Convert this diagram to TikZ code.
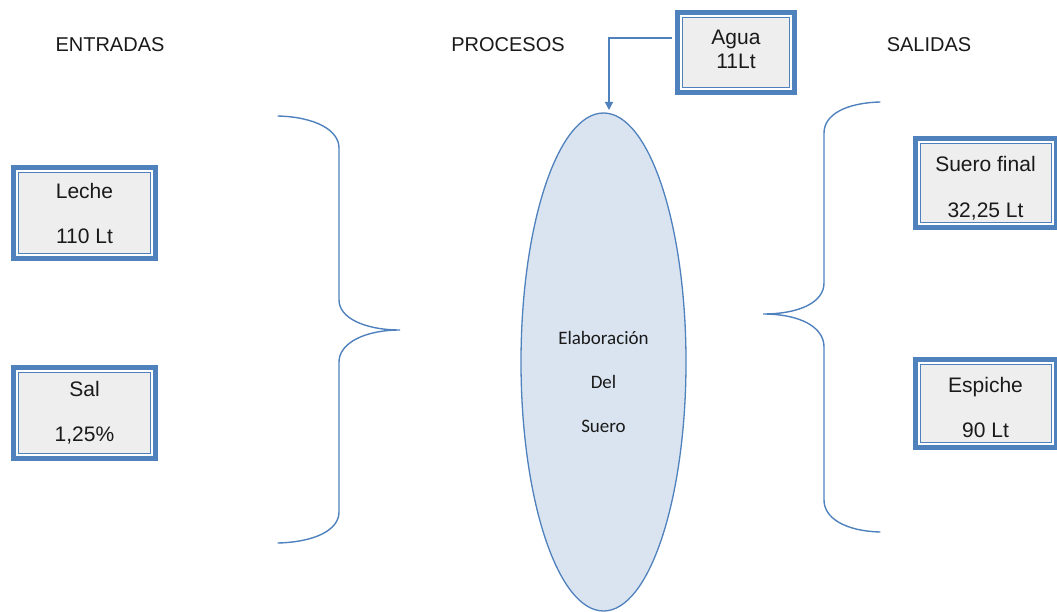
\documentclass[tikz,border=0pt]{standalone}
\usepackage{fontspec}
\setmainfont{Liberation Sans}
\newfontfamily\calib{Carlito}
\usetikzlibrary{shapes.geometric,arrows.meta}

\definecolor{frameblue}{HTML}{4F81BD}
\definecolor{boxgray}{HTML}{EEEEEE}
\definecolor{ovalfill}{HTML}{DAE4F1}
\definecolor{ink}{HTML}{1A1A1A}

\tikzset{
  framebox/.style={
    rectangle, draw=frameblue, line width=5pt, fill=white,
    inner sep=0pt, text=ink, font=\fontsize{21}{24}\selectfont, align=center,
    path picture={
      \draw[frameblue, line width=1pt, fill=boxgray]
        ([shift={(5pt,-5pt)}]path picture bounding box.north west) rectangle
        ([shift={(-5pt,5pt)}]path picture bounding box.south east);
    }},
  header/.style={text=ink, font=\fontsize{20}{24}\selectfont, inner sep=0pt},
  brace/.style={draw=frameblue, line width=1.4pt, line cap=round},
  feed/.style={draw=frameblue, line width=1.2pt, -{Triangle[width=8pt,length=8pt]}}
}

\begin{document}
\begin{tikzpicture}[x=1pt, y=-1pt]
  \useasboundingbox (0,0) rectangle (1057,612);

  % column headings
  \node[header] (hin)   at (110,45) {ENTRADAS};
  \node[header] (hproc) at (508,45) {PROCESOS};
  \node[header] (hout)  at (929,45) {SALIDAS};

  % process
  \node[ellipse, draw=frameblue, line width=1.3pt, fill=ovalfill,
        minimum width=165pt, minimum height=498pt, inner sep=0pt]
        (proc) at (603.5,362) {};
  \node[text=ink, font=\calib\fontsize{19}{44}\selectfont, align=center]
        (proctext) at (603.5,382) {Elaboración\\Del\\Suero};

  % inputs
  \node[framebox, minimum width=142pt, minimum height=91pt] (leche) at (84.5,213)
    {Leche\\[21pt]110 Lt};
  \node[framebox, minimum width=142pt, minimum height=91pt] (sal) at (84.5,413)
    {Sal\\[21pt]1,25\%};
  \node[framebox, minimum width=117pt, minimum height=80pt] (agua) at (736,52.5)
    {Agua\\11Lt\\[-18pt]};

  % outputs
  \node[framebox, minimum width=141pt, minimum height=89pt] (suero) at (985.5,183)
    {Suero final\\[22pt]32,25 Lt\\[-32pt]};
  \node[framebox, minimum width=141pt, minimum height=88pt] (espiche) at (985.5,403.5)
    {Espiche\\[21pt]90 Lt\\[-32pt]};

  % water fed into the process
  \coordinate (wstart) at (672,38);
  \coordinate (wend) at (609,110);
  \draw[feed] (wstart) -| (wend);

  % brace gathering the inputs
  \draw[brace] (278,116) .. controls (315,117) and (339,130) .. (339,148)
    -- (339,300) .. controls (339,318) and (365,330) .. (400,330)
    .. controls (365,330) and (339,343) .. (339,362)
    -- (339,512) .. controls (339,530) and (315,542) .. (278,543);

  % brace gathering the outputs
  \draw[brace] (880,102) .. controls (845,103) and (824,115) .. (824,133)
    -- (824,283) .. controls (824,302) and (800,314) .. (763,314)
    .. controls (800,314) and (824,327) .. (824,347)
    -- (824,500) .. controls (824,518) and (845,531) .. (880,532);
\end{tikzpicture}
\end{document}
